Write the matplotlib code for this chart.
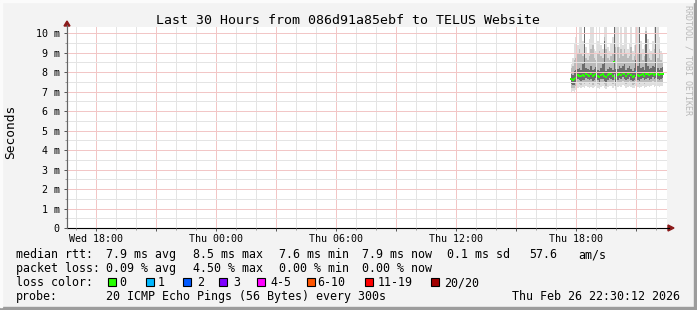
import numpy as np
import matplotlib
matplotlib.use("Agg")
import matplotlib.pyplot as plt
from matplotlib.patches import Rectangle, Polygon
from matplotlib.lines import Line2D

plt.rcParams['font.family'] = ['DejaVu Sans Mono']

W, H = 697, 310

# --- data (ms), one sample every 5 minutes, hours after Wed 18:00 ---
t0 = 23.75
med = [7.64, 7.60, 7.62, 7.70, 7.86, 7.82, 7.78, 7.84, 7.82, 7.90,
       7.86, 7.82, 7.88, 7.78, 7.84, 7.90, 7.82, 7.74, 7.86, 7.90,
       7.80, 7.72, 7.84, 7.92, 7.88, 7.82, 8.50, 7.70, 7.84, 7.90,
       7.86, 7.96, 7.88, 7.82, 7.88, 7.94, 7.84, 7.76, 7.82, 7.98,
       7.84, 7.80, 7.86, 7.92, 7.82, 7.88, 7.90, 7.84, 7.88, 7.94,
       7.86, 7.90, 7.88, 7.84, 7.90, 7.92]
pmin = [7.00, 7.02, 6.98, 7.10, 7.20, 7.22, 7.18, 7.24, 7.20, 7.26,
        7.22, 7.20, 7.25, 7.18, 7.22, 7.28, 7.20, 7.15, 7.24, 7.26,
        7.20, 7.12, 7.22, 7.30, 7.26, 7.20, 7.30, 7.10, 7.22, 7.28,
        7.25, 7.32, 7.26, 7.20, 7.24, 7.30, 7.22, 7.16, 7.20, 7.30,
        7.22, 7.18, 7.24, 7.30, 7.20, 7.24, 7.28, 7.22, 7.26, 7.32,
        7.24, 7.28, 7.26, 7.22, 7.26, 7.28]
q10 = [7.20, 7.18, 7.16, 7.28, 7.42, 7.40, 7.36, 7.42, 7.40, 7.48,
       7.42, 7.40, 7.45, 7.36, 7.42, 7.48, 7.40, 7.32, 7.44, 7.46,
       7.38, 7.30, 7.42, 7.50, 7.46, 7.40, 7.60, 7.28, 7.42, 7.48,
       7.44, 7.54, 7.46, 7.40, 7.44, 7.52, 7.42, 7.34, 7.40, 7.54,
       7.42, 7.38, 7.44, 7.50, 7.40, 7.44, 7.48, 7.42, 7.46, 7.52,
       7.44, 7.48, 7.46, 7.42, 7.46, 7.48]
q25 = [7.40, 7.36, 7.34, 7.46, 7.62, 7.58, 7.55, 7.60, 7.58, 7.68,
       7.62, 7.58, 7.64, 7.55, 7.60, 7.68, 7.58, 7.50, 7.62, 7.66,
       7.56, 7.48, 7.60, 7.70, 7.64, 7.58, 7.90, 7.45, 7.60, 7.68,
       7.62, 7.74, 7.66, 7.58, 7.64, 7.72, 7.60, 7.52, 7.58, 7.76,
       7.60, 7.56, 7.62, 7.70, 7.58, 7.64, 7.68, 7.60, 7.66, 7.72,
       7.62, 7.68, 7.64, 7.60, 7.66, 7.68]
q75 = [7.90, 7.85, 8.05, 8.10, 8.15, 8.20, 8.10, 8.40, 10.40, 8.20,
       8.15, 8.10, 8.30, 8.10, 8.15, 8.25, 8.10, 8.05, 8.20, 8.40,
       9.60, 8.05, 8.15, 8.25, 8.20, 8.10, 10.40, 8.15, 8.15, 8.30,
       8.20, 8.30, 8.40, 8.10, 8.20, 8.30, 8.15, 8.05, 8.20, 8.60,
       8.30, 10.40, 8.20, 8.25, 8.10, 10.00, 8.30, 8.15, 8.20, 8.30,
       8.25, 10.40, 8.20, 8.10, 8.20, 8.25]
q90 = [8.20, 8.30, 8.60, 8.70, 9.00, 9.20, 8.90, 8.80, 10.40, 8.70,
       8.60, 8.80, 9.20, 9.40, 8.70, 8.60, 8.90, 9.10, 8.80, 8.70,
       9.80, 9.20, 8.70, 8.60, 8.80, 9.00, 10.40, 9.30, 9.30, 8.70,
       9.20, 8.80, 9.20, 8.90, 8.70, 8.80, 9.30, 8.60, 8.80, 9.40,
       9.00, 10.40, 8.90, 8.60, 8.80, 10.10, 8.90, 8.70, 8.60, 8.90,
       9.20, 10.40, 8.70, 9.20, 8.60, 8.50]
pmax = [8.40, 8.70, 9.50, 9.80, 9.40, 10.40, 10.40, 9.60, 10.40, 9.30,
        9.00, 9.70, 10.40, 10.40, 9.20, 9.10, 9.60, 10.40, 9.40, 9.20,
        10.40, 10.40, 9.30, 9.10, 9.50, 9.80, 10.40, 10.40, 10.40, 9.30,
        10.40, 9.40, 10.40, 10.40, 9.20, 9.50, 10.40, 9.10, 9.40, 10.40,
        10.40, 10.40, 9.60, 9.20, 9.40, 10.40, 9.70, 9.20, 9.10, 9.60,
        10.40, 10.40, 10.40, 9.80, 9.10, 8.90]
loss = [0] * 39 + [1] + [0] * 16

tick_hours = [0, 3, 6, 9, 12, 15, 18, 21, 24, 27]
tick_labels = ['Wed 18:00', '', 'Thu 00:00', '', 'Thu 06:00', '',
               'Thu 12:00', '', 'Thu 18:00', '']

loss_names = ['0', '1', '2', '3', '4-5', '6-10', '11-19', '20/20']
loss_colors = ['#26ff00', '#00b8ff', '#0059ff', '#7e00ff', '#ff00ff',
               '#ff5500', '#ff0000', '#a10000']

rtt_stats = ['7.9 ms avg', '8.5 ms max', '7.6 ms min', '7.9 ms now',
             '0.1 ms sd', '57.6', 'am/s']
loss_stats = ['0.09 % avg', '4.50 % max', '0.00 % min', '0.00 % now']

t = t0 + np.arange(len(med)) * 5 / 60
med = np.array(med)
loss = np.array(loss)

fig = plt.figure(figsize=(W / 100, H / 100), dpi=100, facecolor='#f3f3f3')
ax = fig.add_axes([67 / W, 1 - 228 / H, 600 / W, 201 / H])
ax.set_facecolor('white')

# smoke
ax.fill_between(t, pmin, pmax, step='mid', color='#dedede', lw=0)
ax.fill_between(t, q10, q90, step='mid', color='#bababa', lw=0)
ax.fill_between(t, q25, q75, step='mid', color='#6c6c6c', lw=0)

# median coloured by loss
for k in range(len(loss_colors)):
    m = loss == k
    if m.any():
        ax.plot(t[m], med[m], ls='none', marker='s', ms=1.9, mew=0,
                color=loss_colors[k])

ax.set_xlim(-1.45, 28.55)
ax.set_ylim(0, 10.31)

ax.set_xticks(tick_hours)
ax.set_xticklabels(tick_labels)
ax.set_xticks(np.arange(-1, 29, 1), minor=True)
yt = np.arange(0, 11, 1)
ax.set_yticks(yt)
ax.set_yticklabels(['0'] + ['%d m' % v for v in yt[1:]])
ax.set_yticks(np.arange(0.5, 10.5, 1), minor=True)

ax.tick_params(which='major', length=2, width=0.7, labelsize=7.2, pad=2.2,
               color='#555555')
ax.tick_params(which='minor', length=1.2, width=0.7, color='#999999')
ax.tick_params(axis='y', pad=3.2)

# dotted grid drawn as faint solid lines (looks the same at this size)
ax.grid(which='major', color='#f2c6c6', lw=0.72)
ax.grid(which='minor', color='#e4e4e4', lw=0.72)
ax.set_axisbelow(False)

for s in ['top', 'right']:
    ax.spines[s].set_visible(False)
ax.spines['left'].set_color('#666666')
ax.spines['left'].set_linewidth(0.8)
ax.spines['bottom'].set_color('black')
ax.spines['bottom'].set_linewidth(0.8)


def fx(x):
    return x / W


def fy(y):
    return 1 - y / H


# axis extensions and arrows
fig.add_artist(Line2D([fx(67), fx(67)], [fy(228), fy(25)], color='#666666', lw=0.8))
fig.add_artist(Line2D([fx(667), fx(669)], [fy(228), fy(228)], color='black', lw=0.8))
fig.add_artist(Polygon([(fx(64), fy(26)), (fx(70), fy(26)), (fx(67), fy(21))],
                       closed=True, color='#8b1a1a', transform=fig.transFigure))
fig.add_artist(Polygon([(fx(668), fy(225)), (fx(668), fy(231)), (fx(674), fy(228))],
                       closed=True, color='#8b1a1a', transform=fig.transFigure))

# frame
fig.add_artist(Rectangle((0, 0), 1, 3 / H, color='#9c9c9c', transform=fig.transFigure))
fig.add_artist(Rectangle((1 - 3 / W, 0), 3 / W, 1, color='#9c9c9c', transform=fig.transFigure))
fig.add_artist(Rectangle((0, 1 - 2 / H), 1 - 3 / W, 2 / H, color='#fbfbfb', transform=fig.transFigure))
fig.add_artist(Rectangle((0, 3 / H), 2 / W, 1 - 5 / H, color='#fbfbfb', transform=fig.transFigure))


def txt(x, y, s, **kw):
    kw.setdefault('fontsize', 8.4)
    kw.setdefault('va', 'baseline')
    fig.text(fx(x), fy(y), s, **kw)


txt(348, 24, 'Last 30 Hours from 086d91a85ebf to TELUS Website',
    ha='center', fontsize=9.55)
fig.text(fx(10.5), fy(131.5), 'Seconds', rotation=90, ha='center', va='center',
         fontsize=9.3)
fig.text(fx(688), fy(60), 'RRDTOOL / TOBI OETIKER', rotation=-90, ha='center',
         va='center', fontsize=6, color='#b8b8b8')

# legend
txt(16, 258, 'median rtt:')
for x, s in zip([106, 193, 279, 362, 447, 529, 578], rtt_stats):
    txt(x, 258, s)
txt(16, 272, 'packet loss:')
for x, s in zip([106, 193, 279, 362], loss_stats):
    txt(x, 272, s)
txt(16, 286, 'loss color:')
box_x = [108, 146, 183, 219, 257, 307, 365, 431]
lab_x = [119, 158, 197, 233, 270, 317, 378, 444]
for bx, lx, name, c in zip(box_x, lab_x, loss_names, loss_colors):
    fig.add_artist(Rectangle((fx(bx), fy(286)), 7.5 / W, 8 / H, facecolor=c,
                             edgecolor='black', lw=0.8, transform=fig.transFigure))
    txt(lx, 286, name)
txt(16, 300, 'probe:')
txt(106, 300, '20 ICMP Echo Pings (56 Bytes) every 300s')
txt(512, 300, 'Thu Feb 26 22:30:12 2026')

fig.savefig('out.png', dpi=100, facecolor=fig.get_facecolor())
